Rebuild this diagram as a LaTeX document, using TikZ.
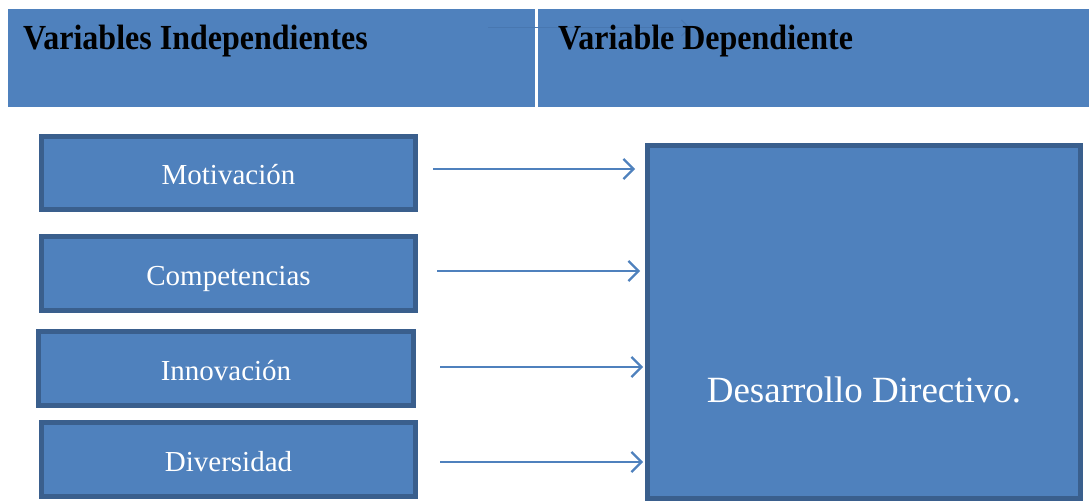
\documentclass[tikz,border=0pt]{standalone}
\usepackage{fontspec}
\setmainfont{Liberation Serif}
\usetikzlibrary{arrows.meta}

\definecolor{boxfill}{HTML}{4F81BD}
\definecolor{boxedge}{HTML}{3A5F8D}
\definecolor{faint}{HTML}{4877B0}

% header titles are set slightly tall
\newcommand{\tall}[1]{\scalebox{1}[1.1]{#1}}

\begin{document}
\begin{tikzpicture}[x=1pt,y=-1pt,
  headbox/.style={fill=boxfill, draw=none, inner sep=0pt, anchor=north west},
  headtext/.style={font=\fontsize{32}{36}\selectfont\bfseries, text=black, inner sep=0pt, anchor=base west},
  % fixed text height/depth put each label's baseline 12pt below the box centre
  varbox/.style={fill=boxfill, draw=boxedge, line width=5pt, inner sep=0pt,
    text height=24pt, text depth=0pt,
    font=\fontsize{29}{33}\selectfont, text=white},
  conn/.style={draw=boxfill, line width=2.4pt, -{Straight Barb[length=10pt,width=20pt,line width=2.2pt]}}
]
\useasboundingbox (0,0) rectangle (1089,502);

% header bands
\node[headbox, minimum width=527pt, minimum height=98pt] (hl) at (8,9) {};
\node[headbox, minimum width=551pt, minimum height=98pt] (hr) at (538,9) {};

% faint connector inside the header
\coordinate (f1) at (488,28);
\coordinate (f2) at (690,28);
\draw[faint, line width=1pt, -{Straight Barb[length=8pt,width=16pt,line width=1pt]}] (f1) -- (f2);

\node[headtext] (tl) at (23,50) {\tall{Variables Independientes}};
\node[headtext] (tr) at (558,50) {\tall{Variable Dependiente}};

% independent variables
\node[varbox, minimum width=374pt, minimum height=73pt] (m) at (228.5,173) {Motivación};
\node[varbox, minimum width=374pt, minimum height=74pt] (c) at (228.5,273.5) {Competencias};
\node[varbox, minimum width=375pt, minimum height=74pt] (i) at (226,368.5) {Innovación};
\node[varbox, minimum width=374pt, minimum height=74pt] (v) at (228.5,459.5) {Diversidad};

% dependent variable
\node[varbox, minimum width=433pt, minimum height=353pt] (d) at (864,322) {};
\node[font=\fontsize{37}{42}\selectfont, text=white, inner sep=0pt, anchor=base] (dt) at (864,402) {Desarrollo Directivo.};

% arrows
\coordinate (a1) at ([shift={(15pt,4pt)}]m.east);
\coordinate (a2) at ([shift={(19pt,2.5pt)}]c.east);
\coordinate (a3) at ([shift={(24pt,1.5pt)}]i.east);
\coordinate (a4) at ([shift={(22pt,-2.5pt)}]v.east);
\draw[conn] (a1) -- ([xshift=-10pt]a1 -| d.west);
\draw[conn] (a2) -- ([xshift=-5pt]a2 -| d.west);
\draw[conn] (a3) -- ([xshift=-2pt]a3 -| d.west);
\draw[conn] (a4) -- ([xshift=-2pt]a4 -| d.west);
\end{tikzpicture}
\end{document}
